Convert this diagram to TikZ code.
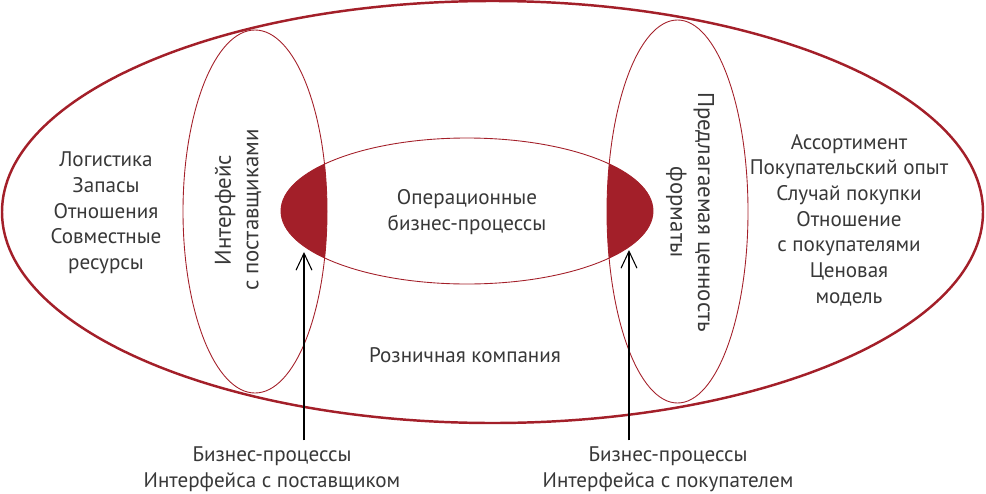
\documentclass[tikz,border=0pt]{standalone}
\usepackage{fontspec}
\setmainfont{PT Sans}
\usetikzlibrary{arrows.meta}
\definecolor{retailred}{HTML}{A31F29}
\definecolor{textgray}{HTML}{383838}
\begin{document}
\begin{tikzpicture}[
  label text/.style={text=textgray, align=center, font=\fontsize{12pt}{14.6pt}\selectfont},
  side text/.style={label text, font=\fontsize{13pt}{15.6pt}\selectfont},
  thin ring/.style={draw=retailred, line width=0.5pt},
  pointer/.style={draw=black, line width=0.6pt, -{Straight Barb[length=3.4mm, width=3.2mm]}}
]
\useasboundingbox (0, 0) rectangle (19.72, 9.86);

% Outer ellipse: the retail company
\draw[retailred, line width=1.4pt] (9.85, 5.62) ellipse (9.81 and 4.22);

% Overlaps of the operations with both interfaces
\begin{scope}
\clip (9.34, 5.64) ellipse (3.72 and 1.46);
\fill[retailred] (5.10, 5.63) ellipse (1.44 and 3.63);
\fill[retailred] (13.55, 5.63) ellipse (1.41 and 3.83);
\end{scope}

% Interfaces and operations
\draw[thin ring] (5.10, 5.63) ellipse (1.44 and 3.63);
\draw[thin ring] (13.55, 5.63) ellipse (1.41 and 3.83);
\draw[thin ring] (9.34, 5.64) ellipse (3.72 and 1.46);

% Texts
\node[label text] (supply) at (2.12, 5.60) {Логистика\\Запасы\\Отношения\\Совместные\\ресурсы};
\node[side text, rotate=90] (supif) at (4.76, 5.66) {Интерфейс\\с поставщиками};
\node[label text] (ops) at (9.34, 5.62) {Операционные\\бизнес-процессы};
\node[side text, rotate=-90] (value) at (13.80, 5.62) {Предлагаемая ценность\\форматы};
\node[label text] (offer) at (16.98, 5.46) {Ассортимент\\Покупательский опыт\\Случай покупки\\Отношение\\с покупателями\\Ценовая\\модель};
\node[label text] (retail) at (9.30, 2.76) {Розничная компания};
\node[label text] (supbp) at (5.44, 0.48) {Бизнес-процессы\\Интерфейса с поставщиком};
\node[label text] (custbp) at (13.36, 0.48) {Бизнес-процессы\\Интерфейса с покупателем};

% Arrows into the overlaps
\coordinate (suptip) at (6.08, 4.82);
\coordinate (custtip) at (12.58, 4.86);
\draw[pointer] (supbp.north -| suptip) -- (suptip);
\draw[pointer] (custbp.north -| custtip) -- (custtip);
\end{tikzpicture}
\end{document}
